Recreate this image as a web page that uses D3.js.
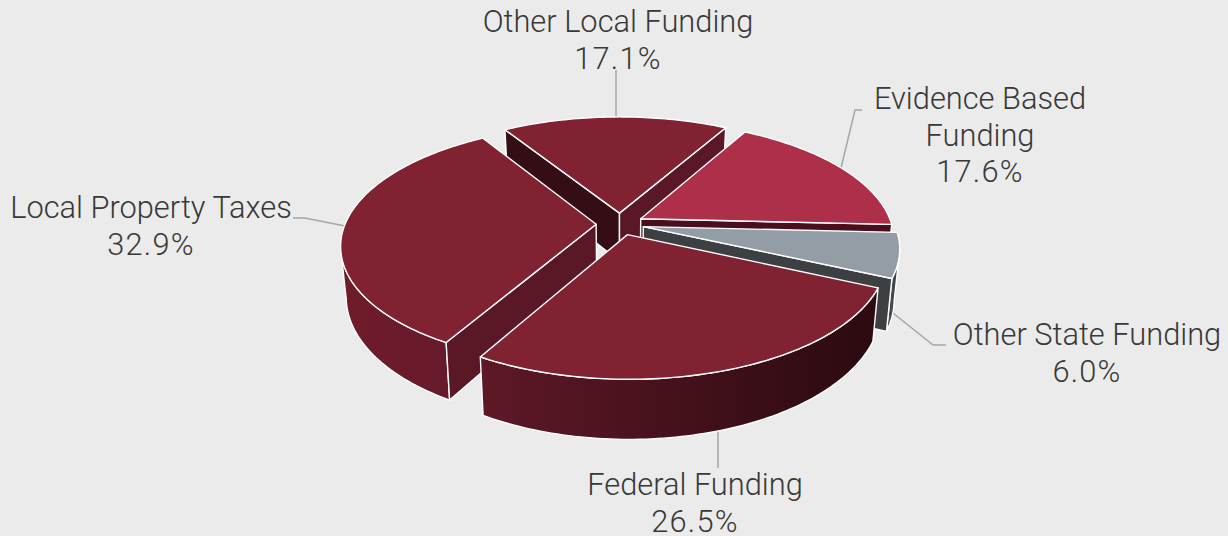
<!DOCTYPE html>
<html>
<head>
<meta charset="utf-8">
<script src="https://cdn.jsdelivr.net/npm/d3@7"></script>
<style>
  html, body { margin: 0; padding: 0; background: #ebebeb; }
  svg { display: block; }
  text { font-family: Roboto, sans-serif; font-weight: 300; font-size: 30.8px; fill: #383838; text-anchor: middle; }
  .pct { letter-spacing: 1.2px; }
</style>
</head>
<body>
<svg id="chart" width="1228" height="536"></svg>
<script>
var categories = ["Other Local Funding", "Evidence Based Funding", "Other State Funding", "Federal Funding", "Local Property Taxes"];
var shares = [17.1, 17.6, 6.0, 26.5, 32.9];
var shareLabels = ["17.1%", "17.6%", "6.0%", "26.5%", "32.9%"];

var topColors = ["#802232", "#ae2f4a", "#929da6", "#802232", "#802232"];
var startWallColors = ["#350d15", "#4a0f1c", "#3d4043", "#4a0f1c", "#5a1726"];
var endWallColors = ["#5a1726", "#4a0f1c", "#3d4043", "#4a0f1c", "#5a1726"];
var outerLeft = ["#701b29", "#4a0f1c", "#4a4e52", "#5e1826", "#701c2a"];
var outerRight = ["#701b29", "#4a0f1c", "#3d4043", "#2b0a10", "#661a2b"];

// paint order, back to front
var drawOrder = [0, 1, 2, 4, 3];

var cx = 620, cy = 224, R = 251, A = 116, B = 0.17, H = 49, bottomShrink = 0.98, explode = 0.095;

var svg = d3.select("#chart");
var defs = svg.append("defs");

function project(u, v, low) {
  var s = 1 / (1 - B * v);
  return [cx + (low ? bottomShrink : 1) * R * u * s, cy + (A * v + (low ? H : 0)) * s];
}

var pie = d3.pie().sort(null).value(function(d) { return d; })
  .startAngle(-32 * Math.PI / 180).endAngle(328 * Math.PI / 180);
var arcs = pie(shares);

function arcPoints(a0, a1, ox, oy, low) {
  var n = Math.max(2, Math.ceil((a1 - a0) / 0.02)), pts = [];
  for (var i = 0; i <= n; i++) {
    var a = a0 + (a1 - a0) * i / n;
    pts.push(project(ox + Math.sin(a), oy - Math.cos(a), low));
  }
  return pts;
}

var line = d3.line();
var edgeStyle = function(sel) {
  return sel.attr("stroke", "#fff").attr("stroke-width", 1.4).attr("stroke-linejoin", "round");
};

// leader lines sit under the pie
var leaders = [
  [[616, 70], [616, 118]],
  [[862, 110], [855, 110], [841, 168]],
  [[946, 345], [933, 345], [888, 309]],
  [[718, 468], [718, 430]],
  [[293, 218], [305, 218], [345, 226]]
];
svg.append("g").selectAll("path").data(leaders).join("path")
  .attr("d", function(d) { return line(d); })
  .attr("fill", "none").attr("stroke", "#a6a6a6").attr("stroke-width", 1.5);

var pieG = svg.append("g");
drawOrder.forEach(function(i) {
  var d = arcs[i], mid = (d.startAngle + d.endAngle) / 2;
  var ox = explode * Math.sin(mid), oy = -explode * Math.cos(mid);
  var g = pieG.append("g").attr("class", "slice");

  var apexTop = project(ox, oy, false), apexLow = project(ox, oy, true);
  var s = [ox + Math.sin(d.startAngle), oy - Math.cos(d.startAngle)];
  var e = [ox + Math.sin(d.endAngle), oy - Math.cos(d.endAngle)];

  // rim runs between the two silhouette points of the ellipse
  var a0 = Math.max(d.startAngle, Math.PI / 2 + 0.2), a1 = Math.min(d.endAngle, 3 * Math.PI / 2 - 0.2);
  if (a1 > a0) {
    var id = "rim" + i;
    var grad = defs.append("linearGradient").attr("id", id);
    grad.append("stop").attr("offset", "0%").attr("stop-color", outerLeft[i]);
    grad.append("stop").attr("offset", "100%").attr("stop-color", outerRight[i]);
    var hi = arcPoints(a0, a1, ox, oy, false), lo = arcPoints(a0, a1, ox, oy, true).reverse();
    g.append("path").call(edgeStyle).attr("fill", "url(#" + id + ")")
      .attr("d", line(hi.concat(lo)) + "Z");
  }

  // cut faces, only those turned to the viewer
  if (Math.sin(d.startAngle) < 0) {
    g.append("path").call(edgeStyle).attr("fill", startWallColors[i])
      .attr("d", line([apexTop, project(s[0], s[1], false), project(s[0], s[1], true), apexLow]) + "Z");
  }
  if (Math.sin(d.endAngle) > 0) {
    g.append("path").call(edgeStyle).attr("fill", endWallColors[i])
      .attr("d", line([apexTop, project(e[0], e[1], false), project(e[0], e[1], true), apexLow]) + "Z");
  }

  // top face
  var rim = arcPoints(d.startAngle, d.endAngle, ox, oy, false);
  g.append("path").call(edgeStyle).attr("fill", topColors[i])
    .attr("d", line([apexTop].concat(rim)) + "Z");
});

// labels
var labelLines = [
  [categories[0]],
  ["Evidence Based", "Funding"],
  [categories[2]],
  [categories[3]],
  [categories[4]]
];
var labelX = [618, 980, 1087, 695, 151];
var labelY = [32, 109, 345, 495, 218];
var lineGap = 36.5;
labelLines.forEach(function(rows, i) {
  var t = svg.append("text").attr("x", labelX[i]).attr("y", labelY[i]);
  rows.forEach(function(r, j) {
    t.append("tspan").attr("x", labelX[i]).attr("dy", j ? lineGap : 0).text(r);
  });
  t.append("tspan").attr("class", "pct").attr("x", labelX[i]).attr("dy", lineGap).text(shareLabels[i]);
});
</script>
</body>
</html>
